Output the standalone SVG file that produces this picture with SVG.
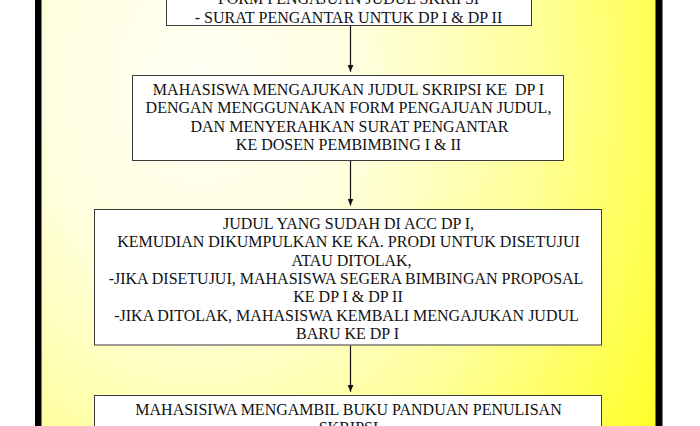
<svg xmlns="http://www.w3.org/2000/svg" width="700" height="426" viewBox="0 0 700 426">
  <defs>
    <radialGradient id="bg" gradientUnits="userSpaceOnUse" cx="200" cy="80" r="520" gradientTransform="translate(200 80) scale(1 1.25) translate(-200 -80)">
      <stop offset="0" stop-color="#fffff4"/>
      <stop offset="0.3" stop-color="#ffffe0"/>
      <stop offset="0.65" stop-color="#ffff9a"/>
      <stop offset="1" stop-color="#ffff30"/>
    </radialGradient>
    <marker id="ah" viewBox="0 0 7 6" refX="7" refY="3" markerWidth="7" markerHeight="6" markerUnits="userSpaceOnUse" orient="auto">
      <path d="M0,0 L7,3 L0,6 z" fill="#111"/>
    </marker>
    <style>
      .box { fill: #ffffff; stroke: #3a3a3a; stroke-width: 1; }
      .t { font-family: "Liberation Serif", "Times New Roman", serif; font-size: 16px; fill: #111; text-anchor: middle; }
      .conn { stroke: #111; stroke-width: 1.2; fill: none; marker-end: url(#ah); }
    </style>
  </defs>

  <rect x="0" y="0" width="700" height="426" fill="#ffffff"/>
  <rect x="41" y="0" width="615" height="426" fill="url(#bg)"/>
  <rect x="35" y="0" width="6.5" height="426" fill="#000"/>
  <rect x="655.5" y="0" width="7" height="426" fill="#000"/>

  <g id="connectors">
    <line class="conn" x1="350.5" y1="26" x2="350.5" y2="71.8"/>
    <line class="conn" x1="350.5" y1="161" x2="350.5" y2="205.5"/>
    <line class="conn" x1="350.5" y1="345.5" x2="350.5" y2="391.8"/>
  </g>

  <g id="node1">
    <rect class="box" x="166.5" y="-20" width="365" height="45.5"/>
    <text class="t" x="348.5" y="4.3">FORM PENGAJUAN JUDUL SKRIPSI</text>
    <text class="t" x="348.5" y="22.5">- SURAT PENGANTAR UNTUK DP I &amp; DP II</text>
  </g>

  <g id="node2">
    <rect class="box" x="132.5" y="75.5" width="431" height="85"/>
    <text class="t" x="348.5" y="95" xml:space="preserve">MAHASISWA MENGAJUKAN JUDUL SKRIPSI KE  DP I</text>
    <text class="t" x="348.5" y="113.3">DENGAN MENGGUNAKAN FORM PENGAJUAN JUDUL,</text>
    <text class="t" x="349.5" y="131.6">DAN MENYERAHKAN SURAT PENGANTAR</text>
    <text class="t" x="348.5" y="149.9">KE DOSEN PEMBIMBING I &amp; II</text>
  </g>

  <g id="node3">
    <rect class="box" x="94.5" y="209.5" width="507" height="135.5"/>
    <text class="t" x="348.5" y="229">JUDUL YANG SUDAH DI ACC DP I,</text>
    <text class="t" x="348.5" y="247.3">KEMUDIAN DIKUMPULKAN KE KA. PRODI UNTUK DISETUJUI</text>
    <text class="t" x="351.5" y="265.6">ATAU DITOLAK,</text>
    <text class="t" x="346" y="283.9">-JIKA DISETUJUI, MAHASISWA SEGERA BIMBINGAN PROPOSAL</text>
    <text class="t" x="348" y="302.2">KE DP I &amp; DP II</text>
    <text class="t" x="346.5" y="320.5">-JIKA DITOLAK, MAHASISWA KEMBALI MENGAJUKAN JUDUL</text>
    <text class="t" x="347.5" y="338.8">BARU KE DP I</text>
  </g>

  <g id="node4">
    <rect class="box" x="94.5" y="395.5" width="507" height="60"/>
    <text class="t" x="348.5" y="415">MAHASISIWA MENGAMBIL BUKU PANDUAN PENULISAN</text>
    <text class="t" x="348.5" y="433.3">SKRIPSI</text>
  </g>
</svg>
